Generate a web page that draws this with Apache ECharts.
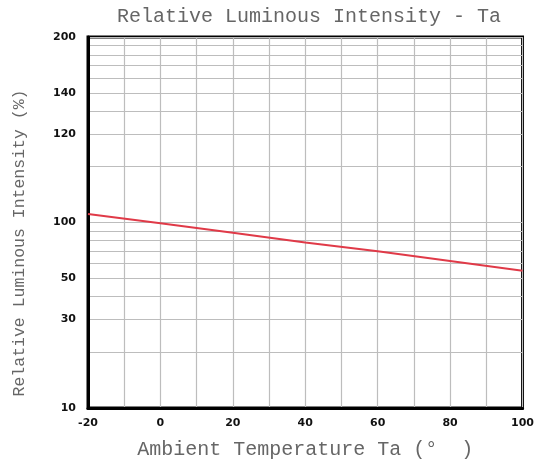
<!DOCTYPE html>
<html>
<head>
<meta charset="utf-8">
<script src="https://cdn.jsdelivr.net/npm/echarts@6/dist/echarts.min.js"></script>
<style>
html,body{margin:0;padding:0;background:#fff;}
#chart{width:537px;height:467px;}
</style>
</head>
<body>
<div id="chart"></div>
<script>
// Data
var temperatures = [-20, 0, 20, 40, 60, 80, 100];
var intensity = [111, 99, 88, 78, 70, 62, 55];

// Axis ticks
var xTickValues = [-20, 0, 20, 40, 60, 80, 100];
var yGridValues = [10, 20, 30, 40, 50, 60, 70, 80, 90, 100, 200, 300, 400, 500, 600, 700, 800, 900, 1000];
var yTickValues = [10, 30, 50, 100, 300, 500, 1000];
var yTickLabels = ['10', '30', '50', '100', '120', '140', '200'];

var chart = echarts.init(document.getElementById('chart'), null, {renderer: 'canvas'});
var mono = 'Liberation Mono';
var option = {
  animation: false,
  backgroundColor: '#ffffff',
  title: {
    text: 'Relative Luminous Intensity - Ta',
    left: 112,
    top: 2,
    textStyle: {fontFamily: mono, fontSize: 20, fontWeight: 'normal', color: '#666'}
  },
  grid: {
    left: 88, right: 14, top: 37, bottom: 59,
    show: true, borderColor: '#000', borderWidth: 3, backgroundColor: 'transparent'
  },
  xAxis: {
    type: 'value',
    min: -20, max: 100, interval: 10,
    name: 'Ambient Temperature Ta (\u00b0  )',
    nameLocation: 'middle',
    nameGap: 32,
    nameTextStyle: {fontFamily: mono, fontSize: 20, color: '#666'},
    axisLine: {show: true, onZero: false, lineStyle: {color: '#000', width: 3}},
    axisTick: {show: false},
    axisLabel: {
      customValues: xTickValues,
      margin: 10,
      fontFamily: 'DejaVu Sans', fontWeight: 'bold', fontSize: 11, color: '#111'
    },
    splitLine: {show: true, lineStyle: {color: '#bdbdbd', width: 1.2}}
  },
  yAxis: {
    type: 'log',
    logBase: 10,
    min: 10, max: 1000,
    name: 'Relative Luminous Intensity (%)',
    nameLocation: 'middle',
    nameGap: 60,
    nameTextStyle: {fontFamily: mono, fontSize: 16.5, color: '#666', padding: [0, 41, 0, 0]},
    axisLine: {show: true, onZero: false, lineStyle: {color: '#000', width: 3}},
    axisTick: {show: false, customValues: yGridValues},
    axisLabel: {
      customValues: yTickValues,
      margin: 12,
      fontFamily: 'DejaVu Sans', fontWeight: 'bold', fontSize: 11, color: '#111',
      formatter: function (v) {
        var best = 0, bd = Infinity;
        for (var i = 0; i < yTickValues.length; i++) {
          var d = Math.abs(Math.log(v) - Math.log(yTickValues[i]));
          if (d < bd) { bd = d; best = i; }
        }
        return yTickLabels[best];
      }
    },
    splitLine: {show: true, lineStyle: {color: '#bdbdbd', width: 1.2}}
  },
  series: [{
    type: 'line',
    data: temperatures.map(function (t, i) { return [t, intensity[i]]; }),
    showSymbol: false,
    symbol: 'none',
    lineStyle: {color: '#e03a48', width: 2},
    z: 5
  }]
};
chart.setOption(option);
</script>
</body>
</html>
